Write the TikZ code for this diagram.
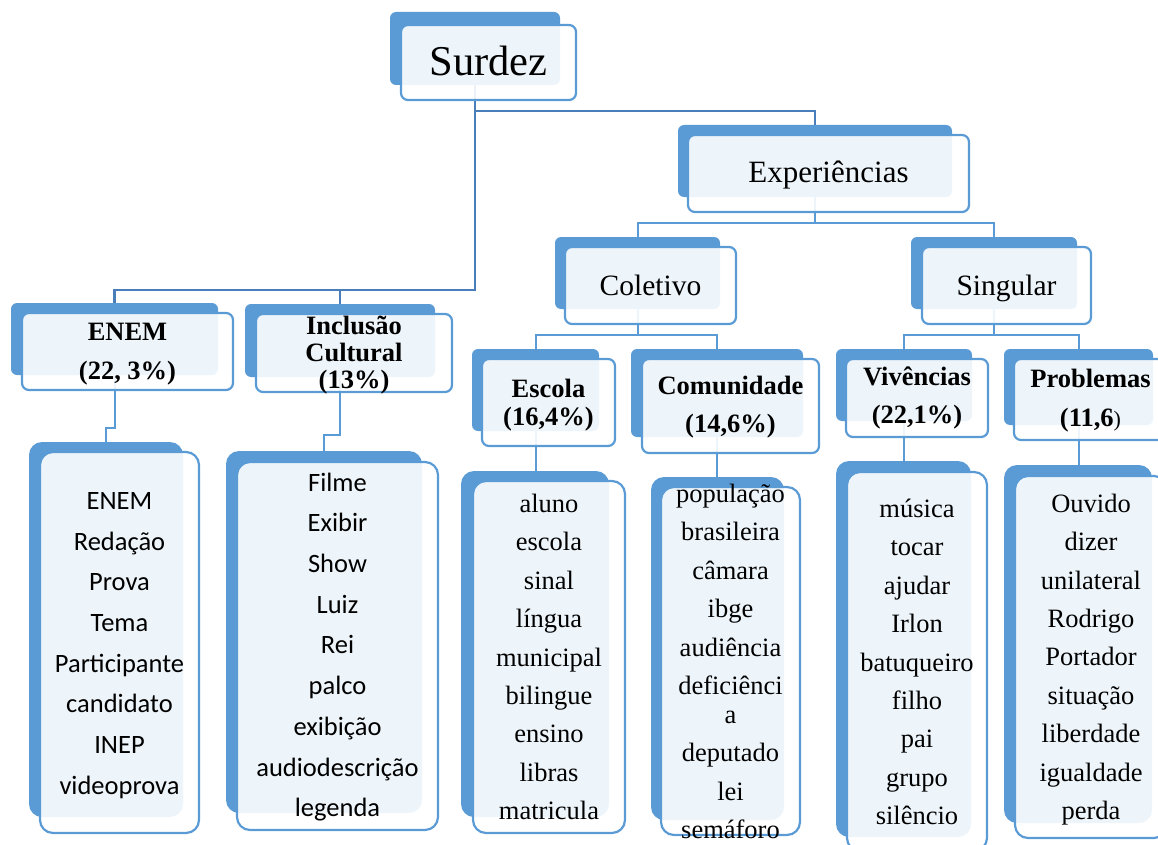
\documentclass[tikz,border=0pt]{standalone}
\usepackage{fontspec}
\setmainfont{Liberation Serif}
\newfontfamily\calfont{Carlito}
\usetikzlibrary{fit,calc}
\definecolor{acc}{HTML}{5B9BD5}
\definecolor{accd}{HTML}{4A7EBB}
\tikzset{
  backbox/.style={fill=acc, draw=none, rounded corners=6pt, inner sep=0pt, outer sep=0pt},
  frontbox/.style={fill=white, fill opacity=0.9, draw=acc, draw opacity=1, line width=2.2pt, rounded corners=7pt, inner sep=0pt, outer sep=0pt},
  bigr/.style={rounded corners=13pt},
  conn/.style={draw=acc, line width=2pt},
  connd/.style={draw=accd, line width=2.6pt},
  lbl/.style={align=center, inner sep=0pt, text=black},
  wordsT/.style={lbl, font=\fontsize{26.5}{38.4}\selectfont},
  wordsC/.style={lbl, font=\calfont\fontsize{26.5}{40.7}\selectfont},
}
\begin{document}
\begin{tikzpicture}[x=1pt,y=-1pt]
\useasboundingbox (0,0) rectangle (1158,845);
\clip (0,0) rectangle (1158,845);
% back boxes
\node[backbox, fit={(390,12) (560,85)}] (sB) {};
\node[backbox, fit={(678,125) (952,197)}] (eB) {};
\node[backbox, fit={(555,237) (720,309)}] (cB) {};
\node[backbox, fit={(911,237) (1077,309)}] (gB) {};
\node[backbox, fit={(11,303) (218,375)}] (enB) {};
\node[backbox, fit={(245,304) (435,377)}] (inB) {};
\node[backbox, fit={(472,349) (599,431)}] (esB) {};
\node[backbox, fit={(631,349) (803,437)}] (coB) {};
\node[backbox, fit={(836,349) (972,421)}] (viB) {};
\node[backbox, fit={(1004,349) (1153,425)}] (prB) {};
\node[backbox, bigr, fit={(29,442) (183,817)}] (enwB) {};
\node[backbox, bigr, fit={(226,451) (422,813)}] (inwB) {};
\node[backbox, bigr, fit={(461,471) (609,817)}] (eswB) {};
\node[backbox, bigr, fit={(651,477) (784,820)}] (cowB) {};
\node[backbox, bigr, fit={(836,461) (971,837)}] (viwB) {};
\node[backbox, bigr, fit={(1004,465) (1152,823)}] (prwB) {};
% connectors
\draw[connd] (sB.south) |- ([yshift=14pt]eB.north) -- (eB.north);
\draw[connd] (sB.south) |- ([yshift=13pt]enB.north) -- (enB.north);
\draw[connd] (sB.south) |- ([yshift=14pt]inB.north) -- (inB.north);
\draw[conn] (eB.south) |- ([yshift=14.3pt]cB.north) -- (cB.north);
\draw[conn] (eB.south) |- ([yshift=14.3pt]gB.north) -- (gB.north);
\draw[conn] (cB.south) |- ([yshift=14pt]esB.north) -- (esB.north);
\draw[conn] (cB.south) |- ([yshift=14pt]coB.north) -- (coB.north);
\draw[conn] (gB.south) |- ([yshift=14pt]viB.north) -- (viB.north);
\draw[conn] (gB.south) |- ([yshift=14pt]prB.north) -- (prB.north);
\draw[conn] (esB.south) -- (esB.south |- eswB.north);
\draw[conn] (coB.south) -- (coB.south |- cowB.north);
\draw[conn] (viB.south) -- (viB.south |- viwB.north);
\draw[conn] (prB.south) -- (prB.south |- prwB.north);
\draw[conn] (enB.south) |- ([yshift=14pt]enwB.north) -- (enwB.north);
\draw[conn] (inB.south) |- ([yshift=16pt]inwB.north) -- (inwB.north);
% front boxes
\node[frontbox, fit={(401,25) (576,100)}] (sF) {};
\node[frontbox, fit={(688,135) (969,212)}] (eF) {};
\node[frontbox, fit={(565,247) (736,324)}] (cF) {};
\node[frontbox, fit={(922,247) (1091,324)}] (gF) {};
\node[frontbox, fit={(22,313) (233,390)}] (enF) {};
\node[frontbox, fit={(256,314) (452,392)}] (inF) {};
\node[frontbox, fit={(482,359) (615,446)}] (esF) {};
\node[frontbox, fit={(642,359) (819,453)}] (coF) {};
\node[frontbox, fit={(846,359) (988,437)}] (viF) {};
\node[frontbox, fit={(1014,359) (1167,440)}] (prF) {};
\node[frontbox, bigr, fit={(40,452) (199,833)}] (enwF) {};
\node[frontbox, bigr, fit={(237,462) (438,830)}] (inwF) {};
\node[frontbox, bigr, fit={(473,481) (625,833)}] (eswF) {};
\node[frontbox, bigr, fit={(661,487) (800,835)}] (cowF) {};
\node[frontbox, bigr, fit={(847,472) (987,851)}] (viwF) {};
\node[frontbox, bigr, fit={(1015,476) (1167,838)}] (prwF) {};
% labels
\node[lbl, font=\fontsize{42.5}{50}\selectfont] (sT) at ([yshift=1.5pt]sF.center) {Surdez};
\node[lbl, font=\fontsize{31}{36}\selectfont] (eT) at ([yshift=-2pt]eF.center) {Experiências};
\node[lbl, font=\fontsize{29.5}{34}\selectfont] (cT) at (cF.center) {Coletivo};
\node[lbl, font=\fontsize{29.5}{34}\selectfont] (gT) at ([yshift=-3pt]gF.center) {Singular};
\node[lbl, font=\bfseries\fontsize{26.5}{39}\selectfont] (enT) at ([yshift=-3pt]enF.center) {ENEM\\(22, 3\%)};
\node[lbl, font=\bfseries\fontsize{26.5}{27}\selectfont] (inT) at ([yshift=-2pt]inF.center) {Inclusão\\Cultural\\(13\%)};
\node[lbl, font=\bfseries\fontsize{26.5}{28}\selectfont] (esT) at ([yshift=-2.5pt]esF.center) {Escola\\(16,4\%)};
\node[lbl, font=\bfseries\fontsize{26.5}{38}\selectfont] (coT) at ([yshift=-1pt]coF.center) {Comunidade\\(14,6\%)};
\node[lbl, font=\bfseries\fontsize{26.5}{38}\selectfont] (viT) at (viF.center) {Vivências\\(22,1\%)};
\node[lbl, font=\bfseries\fontsize{26.5}{39}\selectfont] (prT) at ([yshift=-1.5pt]prF.center) {Problemas\\(11,6{\mdseries\fontsize{22}{39}\selectfont)}};
% word lists
\node[wordsC] (enwT) at ([yshift=-3pt]enwF.center) {ENEM\\Redação\\Prova\\Tema\\Participante\\candidato\\INEP\\videoprova};
\node[wordsC] (inwT) at ([yshift=-1pt]inwF.center) {Filme\\Exibir\\Show\\Luiz\\Rei\\palco\\exibição\\audiodescrição\\legenda};
\node[wordsT] (eswT) at (eswF.center) {aluno\\escola\\sinal\\língua\\municipal\\bilingue\\ensino\\libras\\matricula};
\node[wordsT] (cowT) at ([yshift=-0.5pt]cowF.center) {população\\brasileira\\câmara\\ibge\\audiência\\deficiênci\\[-9.4pt]a\\deputado\\lei\\semáforo};
\node[wordsT] (viwT) at ([yshift=-0.5pt]viwF.center) {música\\tocar\\ajudar\\Irlon\\batuqueiro\\filho\\pai\\grupo\\silêncio};
\node[wordsT] (prwT) at ([yshift=-2.5pt]prwF.center) {Ouvido\\dizer\\unilateral\\Rodrigo\\Portador\\situação\\liberdade\\igualdade\\perda};
\end{tikzpicture}
\end{document}
